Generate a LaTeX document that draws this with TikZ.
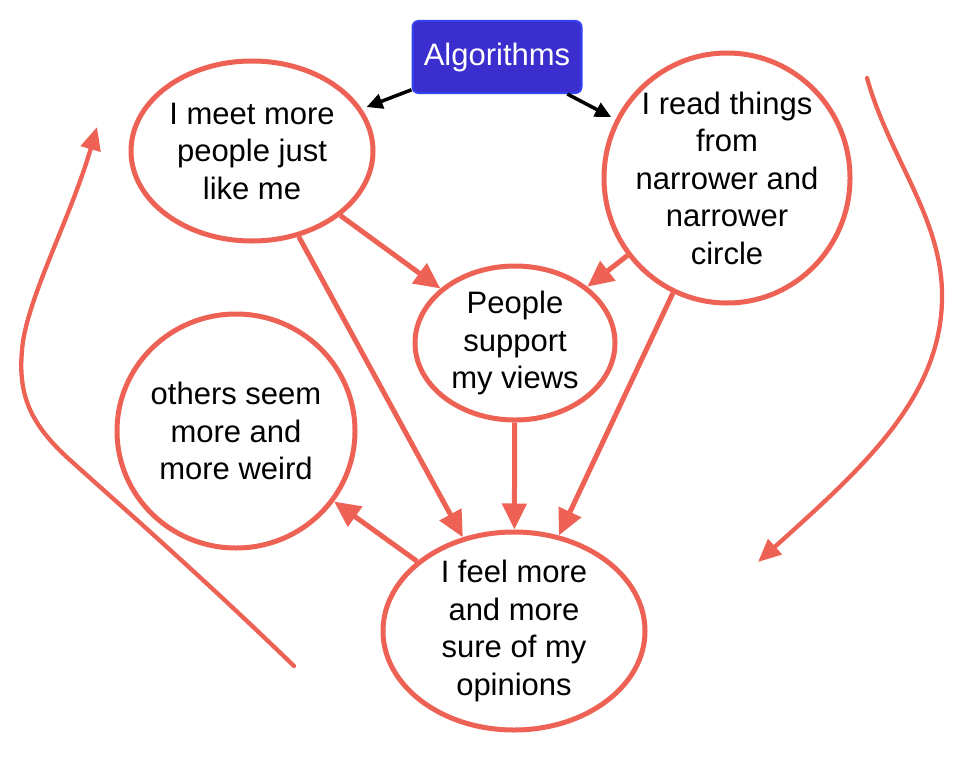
\documentclass[tikz,border=0pt]{standalone}
\usepackage{fontspec}
\setmainfont{Liberation Sans}
\usetikzlibrary{arrows.meta,shapes.geometric}
\definecolor{coral}{RGB}{237,98,84}
\definecolor{algfill}{RGB}{58,46,207}
\definecolor{algdraw}{RGB}{52,66,240}
\begin{document}
\begin{tikzpicture}[x=1pt,y=-1pt,
  txt/.style={align=center, text=black, inner sep=0pt, font=\fontsize{31}{37.5}\selectfont},
  bubble/.style={ellipse, draw=coral, line width=5pt, inner sep=0pt, fill=white},
  redarrow/.style={draw=coral, line width=5pt, -{Triangle[length=26pt,width=24pt]}},
  blackarrow/.style={draw=black, line width=3.5pt, -{Triangle[length=16pt,width=15pt]}, shorten >=5pt},
  curvearrow/.style={draw=coral, line width=4.3pt, line cap=round, -{Triangle[length=23pt,width=20pt]}},
  algbox/.style={rectangle, rounded corners=6pt, fill=algfill, draw=algdraw, line width=2pt,
    text=white, font=\fontsize{31}{37.5}\selectfont, minimum width=169pt, minimum height=72pt, inner sep=0pt}
]
\useasboundingbox (0,0) rectangle (960,768);

\node[algbox] (alg) at (497,57) {Algorithms};

\node[bubble, minimum width=242pt, minimum height=180pt,
  label={[txt]center:{I meet more\\people just\\like me}}] (e1) at (252,151) {};
\node[bubble, minimum width=246pt, minimum height=250pt,
  label={[txt]center:{I read things\\from\\narrower and\\narrower\\circle}}] (e2) at (727,178) {};
\node[bubble, minimum width=200pt, minimum height=154pt,
  label={[txt]center:{People\\support\\my views}}] (e3) at (515,343) {};
\node[bubble, minimum width=238pt, minimum height=234pt,
  label={[txt]center:{others seem\\more and\\more weird}}] (e4) at (236,431) {};
\node[bubble, minimum width=262pt, minimum height=198pt,
  label={[txt]center:{I feel more\\and more\\sure of my\\opinions}}] (e5) at (514,631) {};

\draw[blackarrow] (alg) -- (e1);
\draw[blackarrow] (alg) -- (e2);

\draw[redarrow] (e1) -- (e3);
\draw[redarrow] (e2) -- (e3);
\draw[redarrow] (e1) -- (e5);
\draw[redarrow] (e3) -- (e5);
\draw[redarrow] (e2) -- (e5);
\draw[redarrow] (e5) -- (e4);

\draw[curvearrow] (294,666) .. controls (200,575) and (120,505) .. (70,460)
  .. controls (30,424) and (18,395) .. (22,350)
  .. controls (26,300) and (70,220) .. (97,127);
\draw[curvearrow] (867,78) .. controls (890,160) and (944,220) .. (942,300)
  .. controls (940,400) and (860,470) .. (758,562);
\end{tikzpicture}
\end{document}
